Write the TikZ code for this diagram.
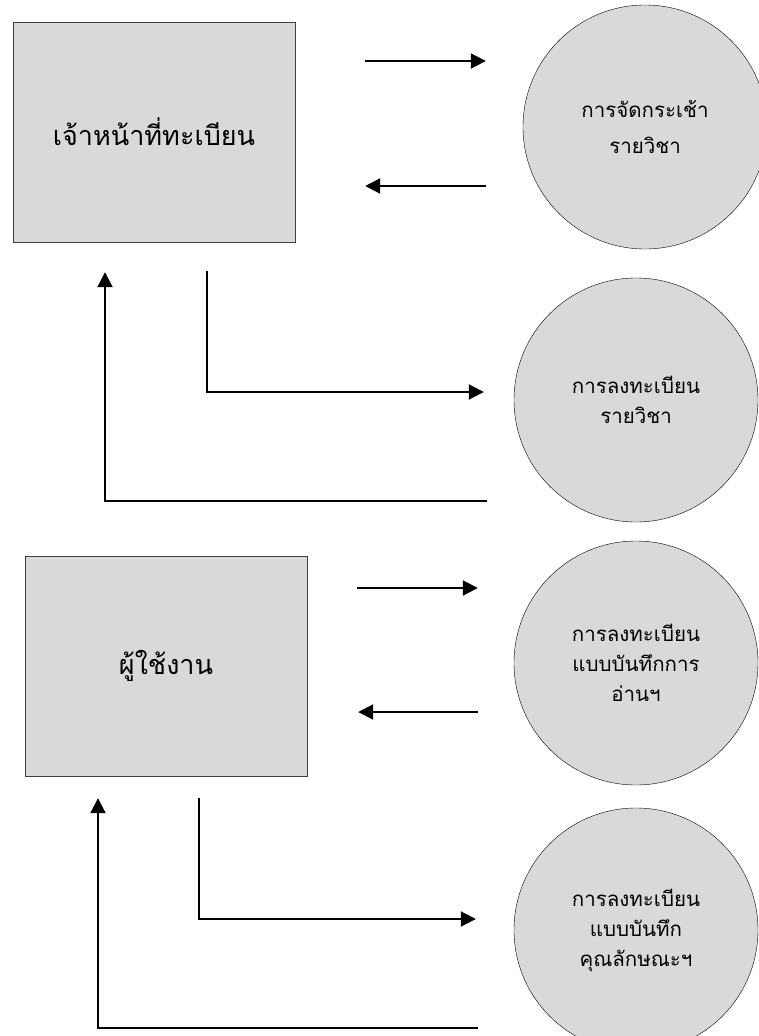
\documentclass[tikz,border=0pt]{standalone}
\usepackage{fontspec}
\newfontfamily\thaifont[Script=Thai]{Loma}
\usetikzlibrary{arrows.meta}
\tikzset{
	actor/.style={draw=black!75, fill=black!15, minimum width=282pt, minimum height=220pt, inner sep=0pt, font=\thaifont\fontsize{27}{31}\selectfont},
	proc/.style={circle, draw=black, fill=black!15, minimum size=244pt, inner sep=0pt, align=center, font=\thaifont\fontsize{20.5}{30}\selectfont},
	flow/.style={line width=2pt, -{Triangle[length=15pt,width=15pt]}}
}

\begin{document}
\begin{tikzpicture}[x=1pt, y=-1pt]
		\useasboundingbox (0, 0) rectangle (758, 1036);
		%%%%% START %%%%%
		
		\node[actor] (staff) at (154, 132) {เจ้าหน้าที่ทะเบียน};
		\node[proc] (basket) at (645, 127) {การจัดกระเช้า\\[6pt]รายวิชา};
		\node[proc] (enrol) at (636, 400) {การลงทะเบียน\\รายวิชา};
		
		\draw[flow, shorten <=70pt, shorten >=37pt] (staff.east |- 0,61) -- (basket.west |- 0,61);
		\draw[flow, shorten <=37pt, shorten >=70pt] (basket.west |- 0,186) -- (staff.east |- 0,186);
		\draw[flow, shorten <=29pt, shorten >=30pt] (staff.south -| 207,0) |- (enrol.west |- 0,392);
		\draw[flow, shorten <=27pt, shorten >=30pt] (enrol.west |- 0,501) -| (staff.south -| 105,0);
		
		\node[actor] (user) at (166, 666) {ผู้ใช้งาน};
		\node[proc] (readlog) at (636, 663) {การลงทะเบียน\\แบบบันทึกการ\\อ่านฯ};
		\node[proc] (traitlog) at (636, 930) {การลงทะเบียน\\แบบบันทึก\\คุณลักษณะฯ};
		
		\draw[flow, shorten <=50pt, shorten >=36pt] (user.east |- 0,588) -- (readlog.west |- 0,588);
		\draw[flow, shorten <=36pt, shorten >=51pt] (readlog.west |- 0,712) -- (user.east |- 0,712);
		\draw[flow, shorten <=22pt, shorten >=38pt] (user.south -| 199,0) |- (traitlog.west |- 0,919);
		\draw[flow, shorten <=36pt, shorten >=22pt] (traitlog.west |- 0,1028) -| (user.south -| 98,0);
		
		%%%%% END %%%%%
\end{tikzpicture}
\end{document}
